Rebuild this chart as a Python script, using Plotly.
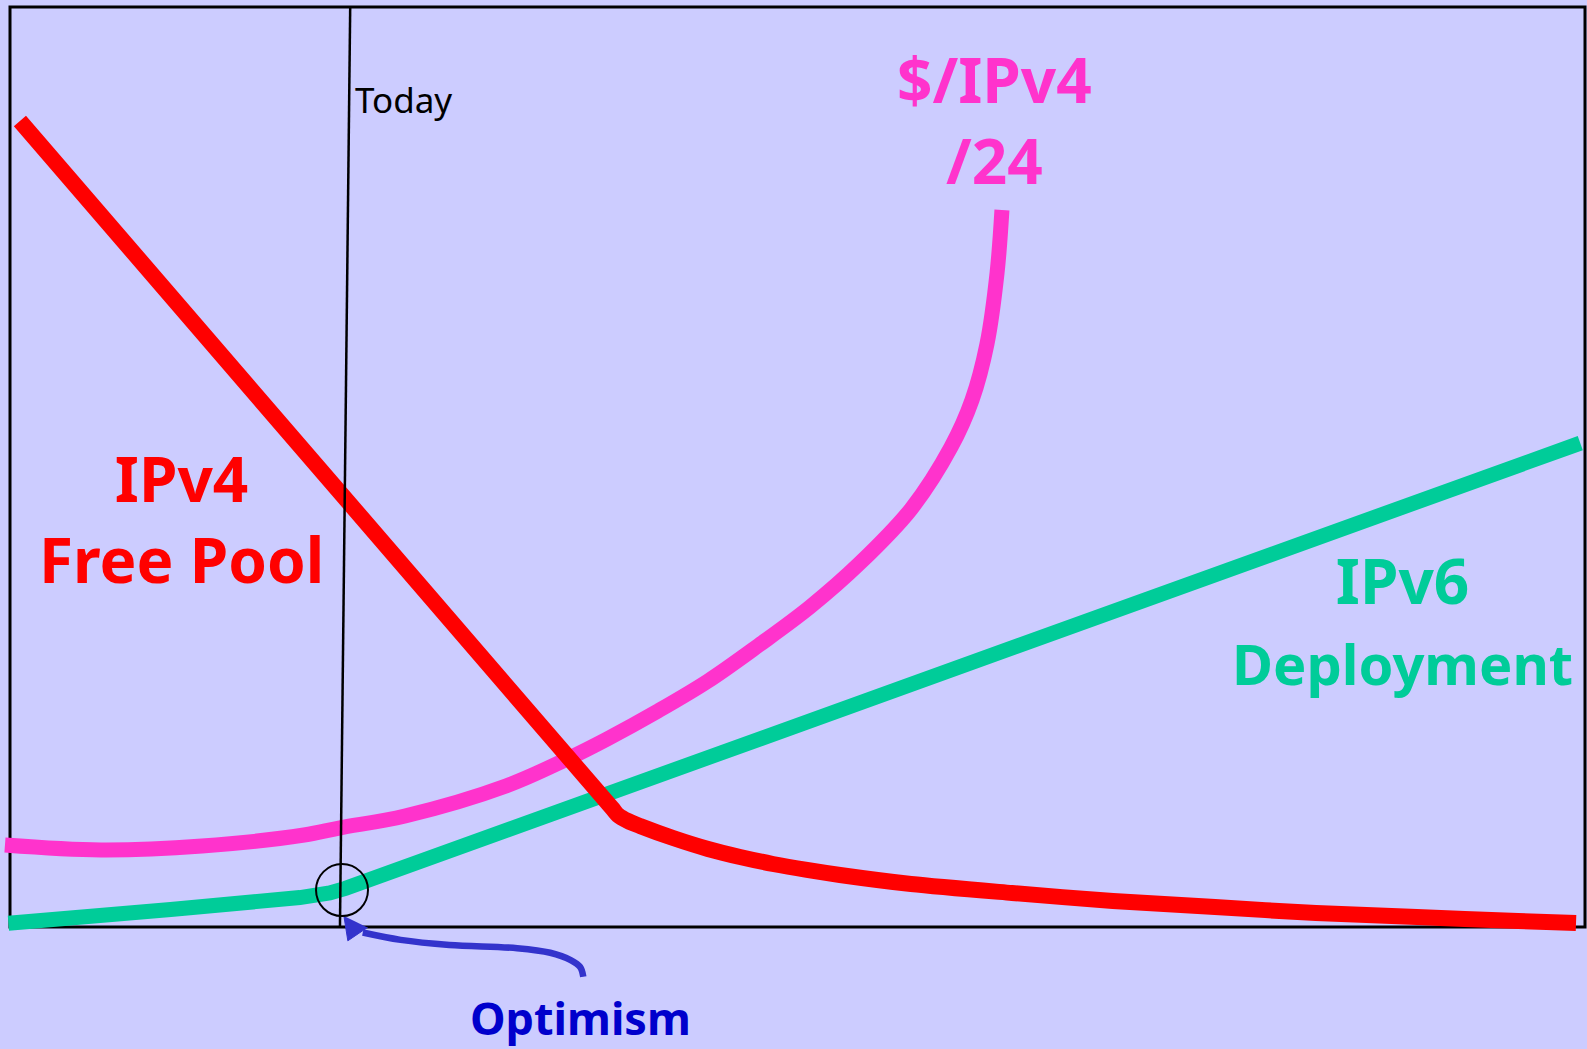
import plotly.graph_objects as go

# ---- data (axis units: the framed box spans 0..100 on both axes) ----
ipv4_pool_x = [0.63, 38.22, 38.60, 39.24, 40.0, 42.10, 44.32, 46.35, 48.44, 50.60, 52.70, 57.21, 63.62, 70.03, 76.51, 82.92, 89.33, 95.75, 99.43]
ipv4_pool_y = [87.61, 12.93, 12.17, 11.52, 10.98, 9.67, 8.48, 7.61, 6.85, 6.20, 5.65, 4.67, 3.70, 2.83, 2.17, 1.52, 1.09, 0.65, 0.43]

price_x = [-0.32, 5.78, 12.19, 18.67, 20.89, 25.08, 31.49, 35.37, 37.90, 41.14, 44.32, 47.56, 50.79, 53.97, 57.21, 59.75, 61.08, 62.03, 62.67, 62.98]
price_y = [8.91, 8.37, 8.80, 10.0, 10.76, 12.07, 15.33, 18.26, 20.43, 23.48, 26.74, 30.65, 34.78, 39.57, 45.43, 52.17, 57.28, 63.37, 71.09, 77.93]

ipv6_x = [-0.1, 10.2, 18.4, 20.3, 21.3, 99.7]
ipv6_y = [0.4, 1.9, 3.2, 3.7, 4.2, 52.6]

today_x = [21.6, 20.95]
today_y = [100.0, 0.0]

optimism_center = (21.08, 4.02)

arrow_x = [36.4, 36.2, 35.6, 34.3, 32.2, 27.9, 24.8, 22.4]
arrow_y = [-5.4, -4.35, -3.6, -2.8, -2.3, -1.95, -1.4, -0.6]
arrowhead_x = [21.2, 21.45, 22.7]
arrowhead_y = [1.2, -1.5, -0.05]

labels = {
    "today": "Today",
    "price": ["$/IPv4", "/24"],
    "pool": ["IPv4", "Free Pool"],
    "v6": ["IPv6", "Deployment"],
    "opt": "Optimism",
}

BG = "#CCCCFF"
RED = "#FF0000"
PINK = "#FF33CC"
GREEN = "#00CC99"
BLUE = "#3333CC"
TXTBLUE = "#0000CC"
FONT = "Comic Sans MS, Noto Sans, DejaVu Sans, sans-serif"

fig = go.Figure()

fig.add_trace(go.Scatter(x=ipv6_x, y=ipv6_y, mode="lines",
                         line=dict(color=GREEN, width=15, simplify=False), hoverinfo="skip"))
fig.add_trace(go.Scatter(x=price_x, y=price_y, mode="lines",
                         line=dict(color=PINK, width=15, shape="spline", smoothing=1.0, simplify=False),
                         hoverinfo="skip"))
fig.add_trace(go.Scatter(x=ipv4_pool_x, y=ipv4_pool_y, mode="lines",
                         line=dict(color=RED, width=16, shape="spline", smoothing=0.8, simplify=False),
                         hoverinfo="skip"))
fig.add_trace(go.Scatter(x=today_x, y=today_y, mode="lines",
                         line=dict(color="black", width=2.5), hoverinfo="skip"))
fig.add_trace(go.Scatter(x=arrow_x, y=arrow_y, mode="lines",
                         line=dict(color=BLUE, width=6.5, shape="spline", simplify=False), hoverinfo="skip"))
fig.add_trace(go.Scatter(x=arrowhead_x, y=arrowhead_y, mode="lines", fill="toself",
                         fillcolor=BLUE, line=dict(color=BLUE, width=1), hoverinfo="skip"))

# frame box
fig.add_shape(type="rect", x0=0, x1=100, y0=0, y1=100, xref="x", yref="y",
              line=dict(color="black", width=3), layer="below")
# optimism circle
cx, cy = optimism_center
fig.add_shape(type="circle", x0=cx - 1.65, x1=cx + 1.65, y0=cy - 2.83, y1=cy + 2.83,
              xref="x", yref="y", line=dict(color="black", width=2), layer="above")


def txt(x, y, s, color, size, bold=True, xanchor="center"):
    fig.add_annotation(x=x, y=y, xref="x", yref="y", text=("<b>%s</b>" % s) if bold else s,
                       showarrow=False, xanchor=xanchor, yanchor="middle", align="center",
                       font=dict(family=FONT, size=size, color=color))


txt(21.75, 90.0, labels["today"], "black", 35, bold=False, xanchor="left")
txt(62.5, 87.8, "<br>".join(labels["price"]), PINK, 62)
txt(10.9, 44.4, "<br>".join(labels["pool"]), RED, 62)
txt(88.4, 33.4, labels["v6"][0] + "<br><span style='font-size:56px'>" + labels["v6"][1] + "</span>",
    GREEN, 62)
txt(36.25, -9.8, labels["opt"], TXTBLUE, 45)

px_per_x = 15.75
px_per_y = 9.2
fig.update_layout(
    width=1587, height=1049,
    margin=dict(l=0, r=0, t=0, b=0),
    paper_bgcolor=BG, plot_bgcolor=BG,
    showlegend=False,
    xaxis=dict(range=[-10 / px_per_x, 100 + 2 / px_per_x], visible=False, fixedrange=True),
    yaxis=dict(range=[-122 / px_per_y, 100 + 7 / px_per_y], visible=False, fixedrange=True),
)

fig.write_html("out.html", config={"displayModeBar": False},
               post_script="document.body.style.margin='0px';document.body.style.overflow='hidden';")
